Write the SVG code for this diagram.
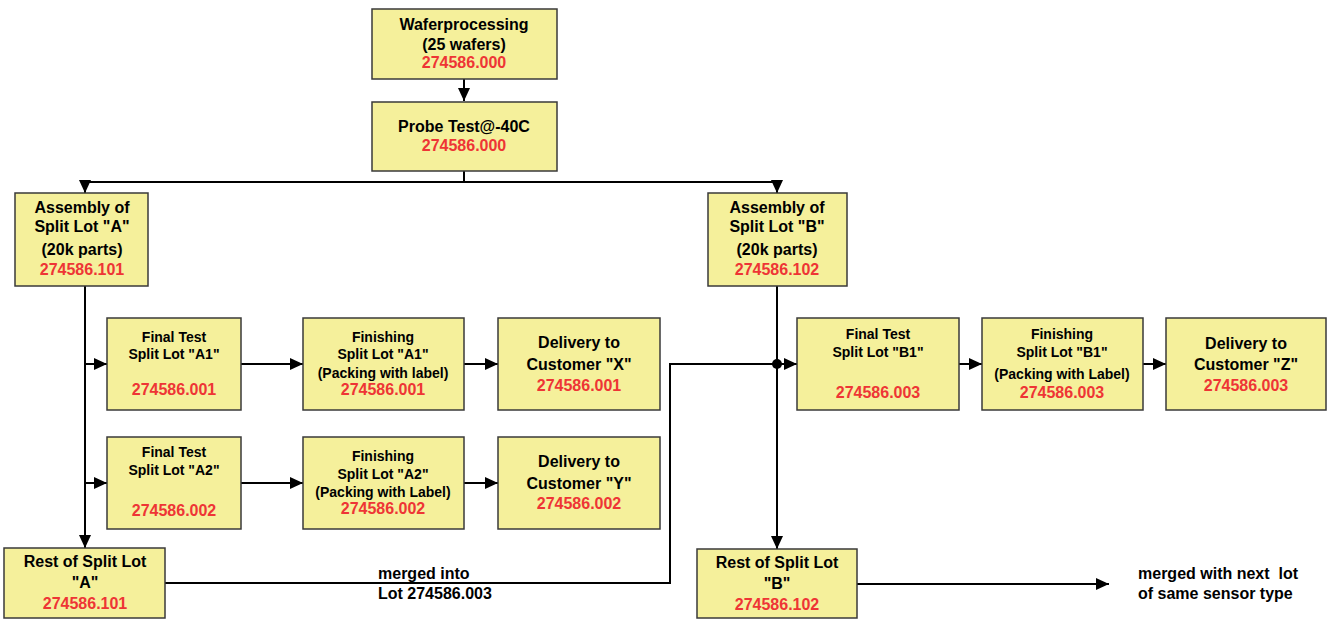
<svg xmlns="http://www.w3.org/2000/svg" width="1329" height="619" viewBox="0 0 1329 619">
<defs>
<marker id="arr" markerUnits="userSpaceOnUse" markerWidth="14" markerHeight="12" refX="13" refY="6" orient="auto">
<path d="M0,0 L13,6 L0,12 z" fill="#000"/>
</marker>
<style>
.box{fill:#f5f09b;stroke:#3a3a3a;stroke-width:1.5}
text{font-family:"Liberation Sans",Arial,sans-serif;font-weight:bold;text-anchor:middle;fill:#000}
.t16{font-size:16px}
.t14{font-size:14px}
.red{fill:#ee3535;font-size:16px}
.lbl{text-anchor:start;font-size:16px;white-space:pre}
.ln{fill:none;stroke:#000;stroke-width:2}
</style>
</defs>
<rect width="1329" height="619" fill="#fff"/>

<g id="connectors">
<line class="ln" x1="464" y1="79" x2="464" y2="101" marker-end="url(#arr)"/>
<polyline class="ln" points="464,171 464,182 85,182 85,193" marker-end="url(#arr)"/>
<polyline class="ln" points="464,182 777,182 777,193" marker-end="url(#arr)"/>
<line class="ln" x1="85" y1="286" x2="85" y2="548" marker-end="url(#arr)"/>
<line class="ln" x1="85" y1="364" x2="107" y2="364" marker-end="url(#arr)"/>
<line class="ln" x1="85" y1="483" x2="107" y2="483" marker-end="url(#arr)"/>
<line class="ln" x1="241" y1="364" x2="303" y2="364" marker-end="url(#arr)"/>
<line class="ln" x1="241" y1="483" x2="303" y2="483" marker-end="url(#arr)"/>
<line class="ln" x1="464" y1="364" x2="498" y2="364" marker-end="url(#arr)"/>
<line class="ln" x1="464" y1="483" x2="498" y2="483" marker-end="url(#arr)"/>
<polyline class="ln" points="165,583 670,583 670,364 777,364"/>
<line class="ln" x1="777" y1="364" x2="797" y2="364" marker-end="url(#arr)"/>
<circle cx="777" cy="364" r="5" fill="#000"/>
<line class="ln" x1="777" y1="286" x2="777" y2="549" marker-end="url(#arr)"/>
<line class="ln" x1="959" y1="364" x2="982" y2="364" marker-end="url(#arr)"/>
<line class="ln" x1="1143" y1="364" x2="1166" y2="364" marker-end="url(#arr)"/>
<line class="ln" x1="857" y1="584" x2="1109" y2="584" marker-end="url(#arr)"/>
<text class="lbl" x="378" y="579">merged into</text>
<text class="lbl" x="378" y="599">Lot 274586.003</text>
<text class="lbl" x="1138" y="579" xml:space="preserve">merged with next  lot</text>
<text class="lbl" x="1138" y="599">of same sensor type</text>
</g>

<g id="wafer">
<rect class="box" x="372" y="9" width="185" height="70"/>
<text class="t16" x="464" y="30">Waferprocessing</text>
<text class="t16" x="464" y="50">(25 wafers)</text>
<text class="red" x="464" y="68">274586.000</text>
</g>

<g id="probe">
<rect class="box" x="372" y="102" width="185" height="69"/>
<text class="t16" x="464" y="132">Probe Test@-40C</text>
<text class="red" x="464" y="151">274586.000</text>
</g>

<g id="assemblyA">
<rect class="box" x="15" y="193" width="133" height="93"/>
<text class="t16" x="82" y="213">Assembly of</text>
<text class="t16" x="82" y="232">Split Lot "A"</text>
<text class="t16" x="82" y="255">(20k parts)</text>
<text class="red" x="82" y="275">274586.101</text>
</g>

<g id="assemblyB">
<rect class="box" x="708" y="193" width="139" height="93"/>
<text class="t16" x="777" y="213">Assembly of</text>
<text class="t16" x="777" y="232">Split Lot "B"</text>
<text class="t16" x="777" y="255">(20k parts)</text>
<text class="red" x="777" y="275">274586.102</text>
</g>

<g id="finalA1">
<rect class="box" x="107" y="318" width="134" height="92"/>
<text class="t14" x="174" y="342">Final Test</text>
<text class="t14" x="174" y="359">Split Lot "A1"</text>
<text class="red" x="174" y="395">274586.001</text>
</g>

<g id="finishA1">
<rect class="box" x="303" y="318" width="161" height="92"/>
<text class="t14" x="383" y="342">Finishing</text>
<text class="t14" x="383" y="359">Split Lot "A1"</text>
<text class="t14" x="383" y="378">(Packing with label)</text>
<text class="red" x="383" y="395">274586.001</text>
</g>

<g id="deliveryX">
<rect class="box" x="498" y="318" width="162" height="92"/>
<text class="t16" x="579" y="348">Delivery to</text>
<text class="t16" x="579" y="370">Customer "X"</text>
<text class="red" x="579" y="391">274586.001</text>
</g>

<g id="finalA2">
<rect class="box" x="107" y="437" width="134" height="92"/>
<text class="t14" x="174" y="457">Final Test</text>
<text class="t14" x="174" y="475">Split Lot "A2"</text>
<text class="red" x="174" y="516">274586.002</text>
</g>

<g id="finishA2">
<rect class="box" x="303" y="437" width="161" height="92"/>
<text class="t14" x="383" y="461">Finishing</text>
<text class="t14" x="383" y="479">Split Lot "A2"</text>
<text class="t14" x="383" y="497">(Packing with Label)</text>
<text class="red" x="383" y="514">274586.002</text>
</g>

<g id="deliveryY">
<rect class="box" x="498" y="437" width="162" height="92"/>
<text class="t16" x="579" y="467">Delivery to</text>
<text class="t16" x="579" y="489">Customer "Y"</text>
<text class="red" x="579" y="509">274586.002</text>
</g>

<g id="restA">
<rect class="box" x="4" y="548" width="161" height="70"/>
<text class="t16" x="85" y="567">Rest of Split Lot</text>
<text class="t16" x="85" y="588">"A"</text>
<text class="red" x="85" y="609">274586.101</text>
</g>

<g id="finalB1">
<rect class="box" x="797" y="318" width="162" height="92"/>
<text class="t14" x="878" y="339">Final Test</text>
<text class="t14" x="878" y="357">Split Lot "B1"</text>
<text class="red" x="878" y="398">274586.003</text>
</g>

<g id="finishB1">
<rect class="box" x="982" y="318" width="161" height="92"/>
<text class="t14" x="1062" y="339">Finishing</text>
<text class="t14" x="1062" y="357">Split Lot "B1"</text>
<text class="t14" x="1062" y="379">(Packing with Label)</text>
<text class="red" x="1062" y="398">274586.003</text>
</g>

<g id="deliveryZ">
<rect class="box" x="1166" y="318" width="160" height="92"/>
<text class="t16" x="1246" y="349">Delivery to</text>
<text class="t16" x="1246" y="370">Customer "Z"</text>
<text class="red" x="1246" y="391">274586.003</text>
</g>

<g id="restB">
<rect class="box" x="697" y="549" width="160" height="69"/>
<text class="t16" x="777" y="568">Rest of Split Lot</text>
<text class="t16" x="777" y="589">"B"</text>
<text class="red" x="777" y="610">274586.102</text>
</g>
</svg>
